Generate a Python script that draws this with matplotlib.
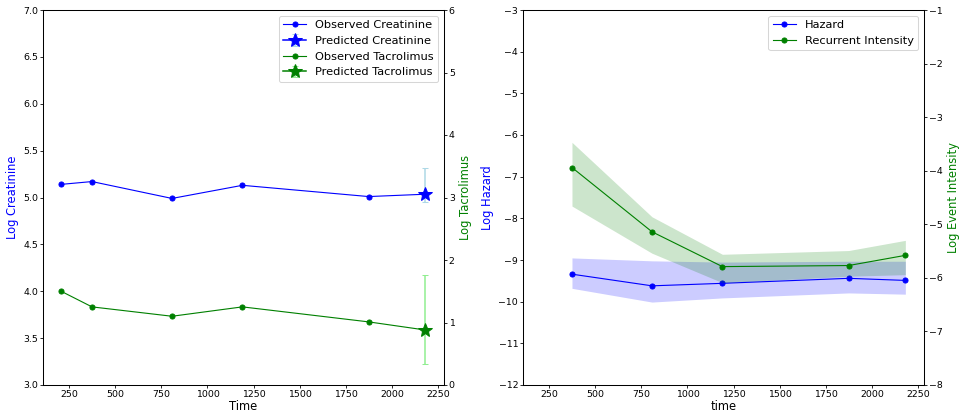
import numpy as np
import matplotlib
matplotlib.use('Agg')
import matplotlib.pyplot as plt

DPI = 73
plt.rcParams['font.size'] = 11.4
plt.rcParams['xtick.labelsize'] = 9.2
plt.rcParams['ytick.labelsize'] = 9.2
plt.rcParams['xtick.major.size'] = 3
plt.rcParams['ytick.major.size'] = 3
plt.rcParams['xtick.major.pad'] = 1.8
plt.rcParams['ytick.major.pad'] = 1.8
plt.rcParams['axes.linewidth'] = 1.0
plt.rcParams['legend.fontsize'] = 11.2

# left panel data
obs_time = [208, 375, 808, 1189, 1872, 2179]
creatinine = [5.14, 5.17, 4.99, 5.13, 5.01, 5.035]
tacrolimus = [1.50, 1.25, 1.10, 1.25, 1.01, 0.88]
pred_time = 2179
pred_creat = 5.035
pred_creat_lo, pred_creat_hi = 4.95, 5.31
pred_tac = 0.88
pred_tac_lo, pred_tac_hi = 0.33, 1.76

# right panel data
haz_time = [375, 808, 1189, 1872, 2179]
hazard = [-9.34, -9.62, -9.56, -9.44, -9.49]
hazard_lo = [-9.68, -10.01, -9.91, -9.79, -9.82]
hazard_hi = [-8.95, -9.02, -9.05, -9.03, -9.03]
intensity = [-3.94, -5.14, -5.79, -5.77, -5.58]
intensity_lo = [-4.66, -5.54, -6.09, -5.97, -5.94]
intensity_hi = [-3.47, -4.86, -5.56, -5.49, -5.30]

xticks = [250, 500, 750, 1000, 1250, 1500, 1750, 2000, 2250]

fig = plt.figure(figsize=(959/DPI, 419/DPI), dpi=DPI)
ax1 = fig.add_axes([43/959, 1-385/419, 401/959, 375/419])
ax3 = fig.add_axes([523/959, 1-385/419, 401/959, 375/419])

# ---- left: creatinine / tacrolimus
ax2 = ax1.twinx()
l1, = ax1.plot(obs_time, creatinine, 'o-', color='blue', markersize=5, linewidth=1.1)
e1 = ax1.errorbar([pred_time], [pred_creat],
                  yerr=[[pred_creat - pred_creat_lo], [pred_creat_hi - pred_creat]],
                  fmt='*-', color='blue', ecolor='lightblue', markersize=14, capsize=3)
l2, = ax2.plot(obs_time, tacrolimus, 'o-', color='green', markersize=5, linewidth=1.1)
e2 = ax2.errorbar([pred_time], [pred_tac],
                  yerr=[[pred_tac - pred_tac_lo], [pred_tac_hi - pred_tac]],
                  fmt='*-', color='green', ecolor='lightgreen', markersize=14, capsize=3)
ax1.set_ylim(3.0, 7.0)
ax2.set_ylim(0, 6)
ax1.set_xlim(110, 2280)
ax1.set_xticks(xticks)
ax1.set_xlabel('Time', labelpad=1)
ax1.set_ylabel('Log Creatinine', color='blue')
ax2.set_ylabel('Log Tacrolimus', color='green')
ax1.legend([l1, e1, l2, e2],
           ['Observed Creatinine', 'Predicted Creatinine', 'Observed Tacrolimus', 'Predicted Tacrolimus'],
           loc='upper right')

# ---- right: hazard / recurrent intensity
ax4 = ax3.twinx()
h1, = ax3.plot(haz_time, hazard, 'o-', color='blue', markersize=5, linewidth=1.1)
ax3.fill_between(haz_time, hazard_lo, hazard_hi, color='blue', alpha=0.2, linewidth=0)
h2, = ax4.plot(haz_time, intensity, 'o-', color='green', markersize=5, linewidth=1.1)
ax4.fill_between(haz_time, intensity_lo, intensity_hi, color='green', alpha=0.2, linewidth=0)
ax3.set_ylim(-12, -3)
ax4.set_ylim(-8, -1)
ax3.set_xlim(110, 2280)
ax3.set_xticks(xticks)
ax3.set_xlabel('time', labelpad=1)
ax3.set_ylabel('Log Hazard', color='blue')
ax4.set_ylabel('Log Event Intensity', color='green')
ax3.legend([h1, h2], ['Hazard', 'Recurrent Intensity'], loc='upper right')

plt.savefig('out.png', dpi=DPI)
